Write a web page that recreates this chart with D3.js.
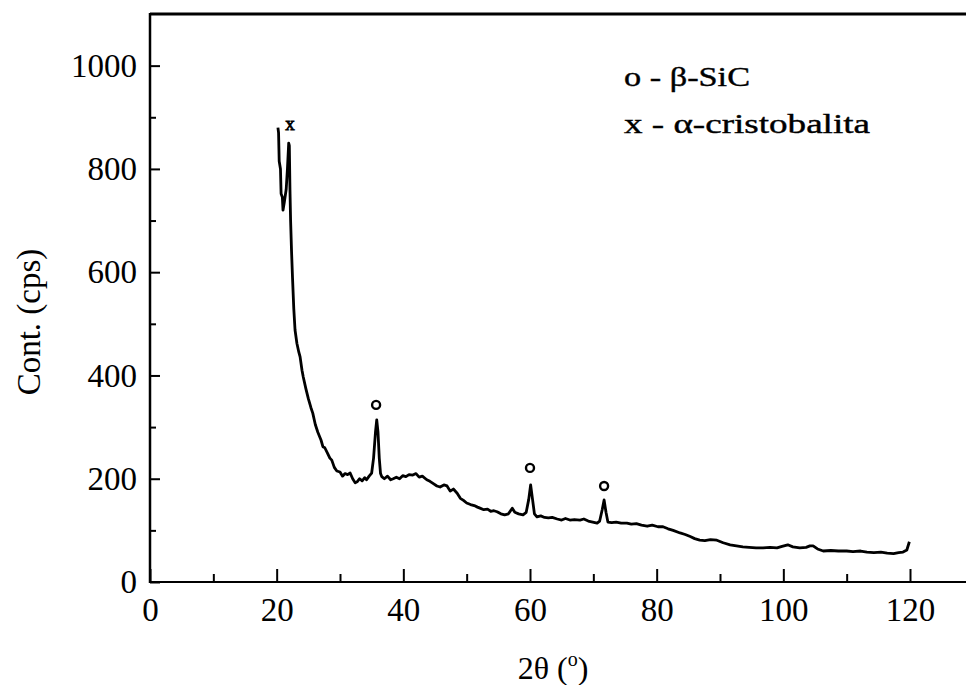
<!DOCTYPE html>
<html>
<head>
<meta charset="utf-8">
<script src="https://cdn.jsdelivr.net/npm/d3@7"></script>
<style>
  html, body { margin: 0; padding: 0; background: #fff; }
  svg { display: block; }
  text { font-family: "Liberation Serif", "DejaVu Serif", serif; fill: #000; }
</style>
</head>
<body>
<svg id="chart" width="966" height="685"></svg>
<script>
// XRD pattern: diffraction angle 2θ (degrees) and counts (cps)
const twoTheta = [
  20.2, 20.3, 20.4, 20.6, 20.7, 20.9, 21.0, 21.2, 21.5, 21.7, 21.9, 22.0, 22.1, 22.2, 22.35, 22.5, 22.7, 22.9,
  23.2, 23.5, 23.7, 24.0, 24.2, 24.6, 25.0, 25.4, 25.7, 26.1, 26.5, 27.0, 27.3, 27.6, 28.0, 28.4, 28.7, 29.1,
  29.5, 30.0, 30.4, 30.8, 31.2, 31.6, 32.0, 32.4, 32.7, 33.1, 33.5, 33.9, 34.2, 34.6, 35.0, 35.3, 35.6, 35.8,
  36.0, 36.2, 36.4, 36.6, 37.0, 37.5, 38.0, 38.4, 38.9, 39.4, 39.9, 40.4, 40.9, 41.5, 42.0, 42.5, 43.0, 43.7,
  44.2, 44.8, 45.3, 45.8, 46.4, 46.9, 47.4, 47.9, 48.5, 49.0, 49.5, 50.0, 50.6, 51.2, 51.7, 52.1, 52.7, 53.3,
  53.8, 54.3, 54.8, 55.4, 56.0, 56.6, 57.2, 57.6, 58.2, 58.9, 59.4, 59.8, 60.1, 60.4, 60.7, 61.1, 61.7, 62.3,
  62.9, 63.5, 64.3, 65.0, 65.6, 66.3, 67.0, 67.9, 68.5, 69.2, 69.9, 70.6, 71.0, 71.4, 71.7, 72.0, 72.3, 72.9,
  73.6, 74.4, 75.3, 76.0, 76.8, 77.6, 78.5, 79.3, 80.2, 81.0, 81.8, 82.6, 83.7, 84.5, 85.3, 86.0, 86.8, 87.6,
  88.5, 89.5, 90.5, 91.6, 92.6, 93.6, 94.6, 95.7, 96.8, 97.9, 99.0, 99.8, 100.7, 101.5, 102.6, 103.6, 104.2,
  104.7, 105.4, 106.3, 107.5, 108.7, 110.0, 111.0, 112.2, 113.2, 114.3, 115.4, 116.4, 117.4, 118.2, 118.9,
  119.5, 119.9
];
const counts = [
  880, 870, 815, 800, 752, 745, 720, 735, 760, 800, 850, 845, 760, 700, 640, 590, 530, 488,
  462, 445, 436, 410, 397, 375, 355, 338, 327, 305, 290, 275, 262, 260, 250, 240, 236, 222,
  215, 213, 205, 210, 208, 211, 200, 192, 194, 200, 196, 202, 198, 205, 211, 240, 290, 314,
  290, 240, 210, 204, 200, 205, 198, 200, 203, 200, 206, 204, 208, 207, 210, 203, 205, 198,
  195, 190, 186, 184, 188, 186, 176, 180, 172, 162, 158, 153, 150, 148, 145, 143, 140, 141,
  137, 138, 136, 132, 130, 132, 143, 135, 132, 130, 135, 160, 188, 160, 132, 126, 128, 125,
  124, 125, 122, 120, 123, 120, 121, 120, 122, 118, 116, 114, 118, 140, 159, 135, 116, 115,
  116, 114, 114, 112, 113, 110, 108, 110, 107, 107, 103, 100, 95, 92, 88, 84, 81, 80,
  82, 81, 76, 72, 70, 68, 67, 66, 66, 67, 66, 69, 72, 68, 66, 67, 70,
  70, 64, 60, 61, 60, 60, 59, 60, 58, 57, 58, 56, 55, 57, 58,
  62, 78
];

// Axis ticks
const xMajorTicks = [0, 20, 40, 60, 80, 100, 120];
const xMinorTicks = [10, 30, 50, 70, 90, 110];
const yMajorTicks = [0, 200, 400, 600, 800, 1000];
const yMinorTicks = [100, 300, 500, 700, 900];

// Phase markers above the reflections
const markerTheta = [22.1, 35.7, 60.0, 71.7];
const markerCount = [884, 343, 221, 186];
const markerSymbol = ["x", "o", "o", "o"];

// Legend entries
const legendLines = ["o - β-SiC", "x - α-cristobalita"];

const svg = d3.select("#chart");
const plotLeft = 150, plotRight = 966, plotTop = 14, plotBottom = 582;

const x = d3.scaleLinear().domain([0, 120]).range([plotLeft, 910]);
const y = d3.scaleLinear().domain([0, 1100]).range([plotBottom, plotTop]);

// Frame: left, bottom and a heavier top edge
svg.append("line").attr("x1", plotLeft).attr("x2", plotLeft).attr("y1", plotTop - 1).attr("y2", plotBottom + 1)
  .attr("stroke", "#000").attr("stroke-width", 2.5);
svg.append("line").attr("x1", plotLeft).attr("x2", plotRight).attr("y1", plotBottom).attr("y2", plotBottom)
  .attr("stroke", "#000").attr("stroke-width", 2.2);
svg.append("line").attr("x1", plotLeft).attr("x2", plotRight).attr("y1", plotTop).attr("y2", plotTop)
  .attr("stroke", "#000").attr("stroke-width", 3);

// X axis, ticks pointing inward
const xAxis = svg.append("g").attr("transform", `translate(0,${plotBottom})`)
  .call(d3.axisBottom(x).tickValues(xMajorTicks).tickSize(-13).tickPadding(16)
    .tickFormat(d3.format("d")));
xAxis.select(".domain").remove();
xAxis.selectAll(".tick line").attr("stroke", "#000").attr("stroke-width", 2);
xAxis.selectAll(".tick text").attr("font-size", 33).attr("font-family", "Liberation Serif").attr("fill", "#000");

const xMinor = svg.append("g").attr("transform", `translate(0,${plotBottom})`)
  .call(d3.axisBottom(x).tickValues(xMinorTicks).tickSize(-8).tickFormat(""));
xMinor.select(".domain").remove();
xMinor.selectAll(".tick line").attr("stroke", "#000").attr("stroke-width", 2);

// Y axis, ticks pointing inward
const yAxis = svg.append("g").attr("transform", `translate(${plotLeft},0)`)
  .call(d3.axisLeft(y).tickValues(yMajorTicks).tickSize(-10).tickPadding(13)
    .tickFormat(d3.format("d")));
yAxis.select(".domain").remove();
yAxis.selectAll(".tick line").attr("stroke", "#000").attr("stroke-width", 2);
yAxis.selectAll(".tick text").attr("font-size", 33).attr("font-family", "Liberation Serif").attr("fill", "#000");

const yMinor = svg.append("g").attr("transform", `translate(${plotLeft},0)`)
  .call(d3.axisLeft(y).tickValues(yMinorTicks).tickSize(-6).tickFormat(""));
yMinor.select(".domain").remove();
yMinor.selectAll(".tick line").attr("stroke", "#000").attr("stroke-width", 2);

// Diffraction pattern
const points = twoTheta.map((t, i) => [t, counts[i]]);
svg.append("path")
  .datum(points)
  .attr("fill", "none")
  .attr("stroke", "#000")
  .attr("stroke-width", 2.8)
  .attr("stroke-linejoin", "round")
  .attr("d", d3.line().x(d => x(d[0])).y(d => y(d[1])));

// Reflection markers
markerTheta.forEach((t, i) => {
  if (markerSymbol[i] === "o") {
    svg.append("circle").attr("cx", x(t)).attr("cy", y(markerCount[i]))
      .attr("r", 4).attr("fill", "none").attr("stroke", "#000").attr("stroke-width", 2.4);
  } else {
    svg.append("text").attr("x", x(t)).attr("y", y(markerCount[i]))
      .attr("text-anchor", "middle").attr("dominant-baseline", "middle")
      .attr("font-size", 19).attr("font-family", "DejaVu Sans")
      .attr("stroke", "#000").attr("stroke-width", 0.8).text(markerSymbol[i]);
  }
});

// Legend
legendLines.forEach((s, i) => {
  svg.append("text").attr("x", 624).attr("y", 86 + i * 47)
    .attr("font-size", 27).attr("stroke", "#000").attr("stroke-width", 0.4)
    .attr("textLength", i === 0 ? 126 : 246).attr("lengthAdjust", "spacingAndGlyphs")
    .text(s);
});

// Axis titles
svg.append("text")
  .attr("transform", `translate(40,322) rotate(-90)`)
  .attr("text-anchor", "middle").attr("font-size", 33).attr("fill", "#222")
  .text("Cont. (cps)");

const xt = svg.append("text").attr("x", 553).attr("y", 679)
  .attr("text-anchor", "middle").attr("font-size", 32);
xt.append("tspan").text("2θ (");
xt.append("tspan").attr("font-size", 20).attr("dy", -13).text("o");
xt.append("tspan").attr("dy", 13).text(")");
</script>
</body>
</html>
